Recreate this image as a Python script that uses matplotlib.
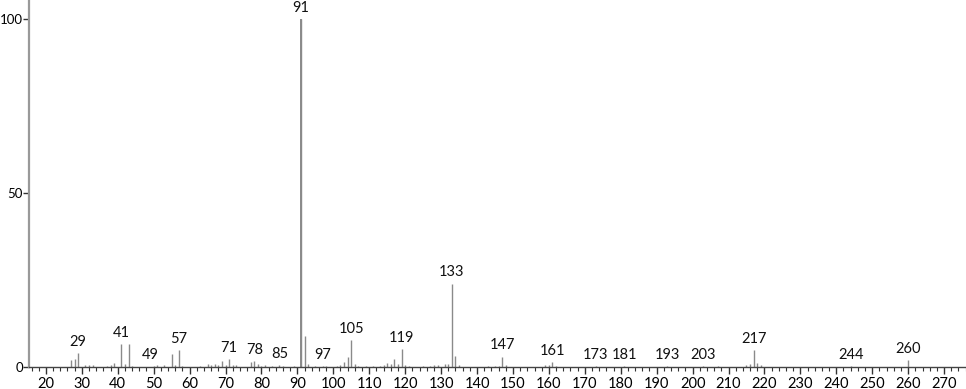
import matplotlib
matplotlib.use("Agg")
import matplotlib.pyplot as plt
from matplotlib.ticker import MultipleLocator

# m/z values and relative intensities (%)
mz = [27, 28, 29, 31, 32, 33, 37, 38, 39, 41, 42, 43, 44, 50, 51, 53, 55, 56, 57, 58,
      63, 65, 66, 67, 68, 69, 70, 71, 72, 73, 77, 78, 79, 80, 81, 83, 85, 86, 89,
      91, 92, 93, 95, 97, 98, 101, 102, 103, 104, 105, 106, 107, 109, 111, 113, 114,
      115, 116, 117, 118, 119, 120, 121, 125, 127, 128, 129, 131, 132, 133, 134, 135,
      143, 145, 146, 147, 148, 159, 160, 161, 162, 173, 181, 193, 203, 207,
      215, 216, 217, 218, 219, 244, 260]
intensity = [2.0, 2.3, 4.0, 0.5, 0.5, 0.5, 0.4, 0.6, 1.2, 6.7, 0.8, 6.7, 0.4, 0.3, 0.5, 0.6, 3.8, 0.6, 4.8, 0.4,
             0.3, 0.8, 0.6, 0.8, 0.5, 1.6, 0.5, 2.3, 0.5, 0.5, 1.3, 1.7, 0.9, 0.4, 0.5, 0.4, 0.6, 0.3, 0.3,
             100.0, 8.8, 0.8, 0.4, 0.3, 0.3, 0.3, 0.5, 1.3, 3.0, 7.8, 0.8, 0.4, 0.3, 0.3, 0.4, 0.5,
             1.1, 0.9, 2.3, 1.0, 5.2, 0.6, 0.4, 0.3, 0.4, 0.5, 0.5, 0.8, 0.9, 24.0, 3.3, 0.5,
             0.3, 0.4, 0.4, 3.0, 0.6, 0.5, 0.5, 1.3, 0.4, 0.3, 0.3, 0.3, 0.3, 0.3,
             0.7, 0.8, 4.8, 1.2, 0.5, 0.3, 2.0]
label_mz = [29, 41, 49, 57, 71, 78, 85, 91, 97, 105, 119, 133, 147, 161, 173, 181,
            193, 203, 217, 244, 260]
x_ticks = list(range(20, 271, 10))
y_ticks = [0, 50, 100]

plt.rcParams['font.family'] = ['Lato', 'DejaVu Sans']
fig = plt.figure(figsize=(9.66, 3.89), dpi=100)
ax = fig.add_axes([29/966, 22/389, 937/966, 367/389])

ax.vlines(mz, 0, intensity, colors='#8a8a8a', linewidth=1.0)
ax.vlines([91], 0, [100], colors='#8a8a8a', linewidth=1.4)

lookup = dict(zip(mz, intensity))
for m in label_mz:
    h = lookup.get(m, 0.3)
    ax.annotate(str(m), xy=(m, h), xytext=(0, 3), textcoords='offset points',
                ha='center', va='bottom', fontsize=10.5, color='#111111')

ax.set_xlim(15.3, 276.1)
ax.set_ylim(0, 105.5)
ax.set_xticks(x_ticks)
ax.set_yticks(y_ticks)
ax.xaxis.set_minor_locator(MultipleLocator(2))
ax.tick_params(axis='x', which='major', length=5, width=1, color='#333333',
               labelsize=10.5, pad=2)
ax.tick_params(axis='x', which='minor', length=3, width=0.8, color='#333333')
ax.tick_params(axis='y', which='major', length=4, width=1, color='#333333',
               labelsize=9.5, pad=0.5)
for s in ['top', 'right']:
    ax.spines[s].set_visible(False)
ax.spines['left'].set_color('#999999')
ax.spines['left'].set_linewidth(1.6)
ax.spines['bottom'].set_color('#444444')
ax.spines['bottom'].set_linewidth(1.0)

fig.savefig('out.png', dpi=100)
